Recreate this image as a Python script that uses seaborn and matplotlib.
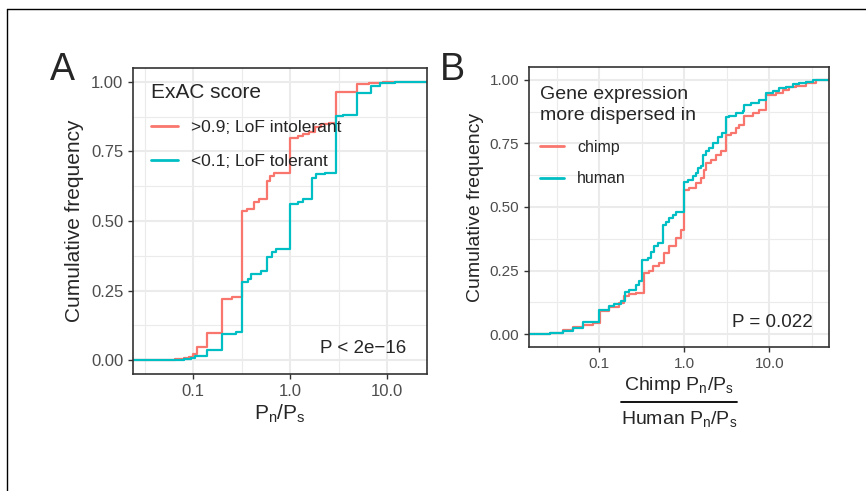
import numpy as np
import pandas as pd
import matplotlib.pyplot as plt
import seaborn as sns
from matplotlib.lines import Line2D
from matplotlib.ticker import FixedLocator, NullFormatter

# Panel A: step positions (Pn/Ps) and cumulative frequency reached at each step
a_intol_x = [0.05, 0.065, 0.08, 0.09, 0.1, 0.11, 0.14, 0.2, 0.25, 0.32, 0.36, 0.42,
             0.48, 0.58, 0.62, 0.68, 1.0, 1.2, 1.35, 1.55, 1.8, 2.1, 2.5, 2.95,
             4.9, 6.5, 9.0, 12.0]
a_intol_y = [0.002, 0.004, 0.008, 0.012, 0.022, 0.048, 0.097, 0.218, 0.228, 0.537,
             0.542, 0.567, 0.579, 0.644, 0.662, 0.674, 0.797, 0.805, 0.811, 0.82,
             0.839, 0.847, 0.853, 0.963, 0.994, 0.997, 0.999, 1.0]
a_tol_x = [0.06, 0.08, 0.095, 0.105, 0.14, 0.2, 0.28, 0.32, 0.37, 0.4, 0.5, 0.58,
           0.65, 0.72, 1.0, 1.2, 1.35, 1.7, 1.85, 2.3, 2.95, 3.5, 4.9, 6.8, 8.5, 12.0]
a_tol_y = [0.002, 0.005, 0.008, 0.015, 0.038, 0.095, 0.1, 0.28, 0.292, 0.31, 0.322,
           0.37, 0.388, 0.398, 0.561, 0.567, 0.579, 0.656, 0.668, 0.674, 0.876,
           0.88, 0.961, 0.985, 0.995, 1.0]

# Panel B: chimp / human ratio of Pn/Ps
b_chimp_x = [0.026, 0.037, 0.049, 0.064, 0.084, 0.102, 0.131, 0.172, 0.197, 0.225,
             0.27, 0.338, 0.388, 0.424, 0.508, 0.582, 0.666, 0.798, 0.914, 1.0,
             1.145, 1.372, 1.57, 1.718, 1.798, 2.06, 2.36, 2.7, 3.09, 3.54, 4.05,
             4.44, 5.08, 6.38, 7.63, 9.14, 12.0, 14.3, 17.2, 20.6, 27.0, 35.3]
b_chimp_y = [0.004, 0.018, 0.027, 0.038, 0.044, 0.09, 0.107, 0.123, 0.149, 0.157,
             0.163, 0.24, 0.25, 0.267, 0.28, 0.319, 0.345, 0.38, 0.41, 0.567,
             0.574, 0.593, 0.613, 0.646, 0.672, 0.685, 0.705, 0.718, 0.783, 0.79,
             0.809, 0.822, 0.857, 0.868, 0.881, 0.94, 0.949, 0.96, 0.97, 0.975,
             0.988, 1.0]
b_human_x = [0.026, 0.037, 0.049, 0.064, 0.1, 0.131, 0.15, 0.18, 0.2, 0.225, 0.27,
             0.296, 0.32, 0.37, 0.405, 0.444, 0.486, 0.556, 0.609, 0.666, 0.729,
             0.798, 1.0, 1.094, 1.254, 1.372, 1.435, 1.57, 1.643, 1.798, 1.968,
             2.154, 2.466, 2.774, 3.09, 3.38, 4.05, 4.86, 5.08, 6.09, 7.63, 9.14,
             10.95, 13.1, 15.7, 18.8, 22.5, 27.0, 32.3, 42.4]
b_human_y = [0.004, 0.012, 0.025, 0.047, 0.094, 0.11, 0.12, 0.13, 0.166, 0.175,
             0.195, 0.208, 0.293, 0.3, 0.325, 0.345, 0.36, 0.43, 0.44, 0.456, 0.47,
             0.481, 0.6, 0.607, 0.62, 0.632, 0.652, 0.66, 0.705, 0.718, 0.731,
             0.753, 0.774, 0.79, 0.855, 0.858, 0.868, 0.877, 0.9, 0.907, 0.92,
             0.946, 0.956, 0.966, 0.973, 0.983, 0.988, 0.992, 0.998, 1.0]

a_groups = ['>0.9; LoF intolerant', '<0.1; LoF tolerant']
b_groups = ['chimp', 'human']
x_major = [0.1, 1.0, 10.0]
x_minor = [10 ** -1.5, 10 ** -0.5, 10 ** 0.5, 10 ** 1.5]
x_ticklabels = ['0.1', '1.0', '10.0']
y_major = [0, 0.25, 0.5, 0.75, 1.0]
y_minor = [0.125, 0.375, 0.625, 0.875]
y_ticklabels = ['0.00', '0.25', '0.50', '0.75', '1.00']

RED, TEAL = '#F8766D', '#00BFC4'

sns.set_style('white')
plt.rcParams['font.family'] = ['Liberation Sans', 'DejaVu Sans']


def ecdf_frame(groups, xs, ys):
    # pad each curve with 0 on the far left and 1 on the far right, like stat_ecdf
    parts = []
    for g, x, y in zip(groups, xs, ys):
        parts.append(pd.DataFrame({'x': np.r_[1e-3, x, 1e3],
                                   'y': np.r_[0.0, y, 1.0],
                                   'group': g}))
    return pd.concat(parts, ignore_index=True)


def style_axis(ax, xlim, tick_size):
    ax.set_xlim(*xlim)
    ax.set_ylim(-0.05, 1.05)
    ax.xaxis.set_major_locator(FixedLocator(x_major))
    ax.xaxis.set_minor_locator(FixedLocator(x_minor))
    ax.xaxis.set_minor_formatter(NullFormatter())
    ax.set_xticklabels(x_ticklabels)
    ax.set_yticks(y_major)
    ax.set_yticklabels(y_ticklabels)
    ax.set_yticks(y_minor, minor=True)
    ax.grid(which='major', color='#EBEBEB', lw=1.5)
    ax.grid(which='minor', color='#EBEBEB', lw=0.8)
    ax.set_axisbelow(True)
    for s in ax.spines.values():
        s.set_visible(True)
        s.set_color('#333333')
        s.set_linewidth(1.2)
    ax.tick_params(which='major', length=3.5, width=1, color='#333333',
                   labelsize=tick_size, labelcolor='#4D4D4D', pad=3.5,
                   bottom=True, left=True)
    ax.tick_params(which='minor', length=0)


fig = plt.figure(figsize=(8.66, 4.91), dpi=100)
axA = fig.add_axes([0.1536, 0.2383, 0.3395, 0.6232])
axB = fig.add_axes([0.6109, 0.2933, 0.3464, 0.5703])

# Panel A
axA.set_xscale('log')
dfA = ecdf_frame(a_groups, [a_intol_x, a_tol_x], [a_intol_y, a_tol_y])
sns.lineplot(data=dfA, x='x', y='y', hue='group', hue_order=a_groups,
             palette=[RED, TEAL], estimator=None, sort=False,
             drawstyle='steps-post', lw=1.6, legend=False, ax=axA)
style_axis(axA, (0.02405, 25.8), 12)
axA.set_xlabel(r'$\mathregular{P_n/P_s}$', fontsize=15, labelpad=3)
axA.set_ylabel('Cumulative frequency', fontsize=15, labelpad=5)
handlesA = [Line2D([], [], color=c, lw=2) for c in [RED, TEAL]]
legA = axA.legend(handlesA, a_groups, title='ExAC score', loc='upper left',
                  bbox_to_anchor=(0.06, 0.952), frameon=False, fontsize=12.5,
                  title_fontsize=15, alignment='left', handlelength=1.55,
                  handletextpad=0.8, labelspacing=1.07, borderpad=0,
                  borderaxespad=0)
axA.text(0.93, 0.082, 'P < 2e\u221216', transform=axA.transAxes,
         ha='right', va='center', fontsize=13.5)

# Panel B
axB.set_xscale('log')
dfB = ecdf_frame(b_groups, [b_chimp_x, b_human_x], [b_chimp_y, b_human_y])
sns.lineplot(data=dfB, x='x', y='y', hue='group', hue_order=b_groups,
             palette=[RED, TEAL], estimator=None, sort=False,
             drawstyle='steps-post', lw=1.6, legend=False, ax=axB)
style_axis(axB, (0.0149, 50.4), 11)
axB.set_xlabel('')
axB.set_ylabel('Cumulative frequency', fontsize=14, labelpad=4)
handlesB = [Line2D([], [], color=c, lw=2) for c in [RED, TEAL]]
legB = axB.legend(handlesB, b_groups, title='Gene expression\nmore dispersed in',
                  loc='upper left', bbox_to_anchor=(0.035, 0.931), frameon=False,
                  fontsize=11.5, title_fontsize=14, alignment='left',
                  handlelength=1.55, handletextpad=0.8, labelspacing=1.02,
                  borderpad=0, borderaxespad=0)
legB.get_title().set_linespacing(1.25)
axB.text(0.947, 0.086, 'P = 0.022', transform=axB.transAxes,
         ha='right', va='center', fontsize=13.5)

# fraction-style x label for panel B
cx = 0.6109 + 0.3464 / 2
fig.text(cx, 1 - 385 / 491, r'Chimp $\mathregular{P_n/P_s}$', ha='center',
         va='center', fontsize=14)
fig.text(cx, 1 - 419 / 491, r'Human $\mathregular{P_n/P_s}$', ha='center',
         va='center', fontsize=14)
fig.add_artist(Line2D([621 / 866, 737 / 866], [1 - 402 / 491] * 2,
                      color='black', lw=1.3))

# panel letters
fig.text(50 / 866, 1 - 80 / 491, 'A', fontsize=27, family='Liberation Sans',
         ha='left', va='baseline')
fig.text(440 / 866, 1 - 80 / 491, 'B', fontsize=27, family='Liberation Sans',
         ha='left', va='baseline')

# page frame edges
fig.add_artist(Line2D([7 / 866, 7 / 866], [0, 1 - 9 / 491], color='black', lw=1))
fig.add_artist(Line2D([7 / 866, 1], [1 - 9 / 491] * 2, color='black', lw=1))

fig.savefig('out.png', dpi=100)
